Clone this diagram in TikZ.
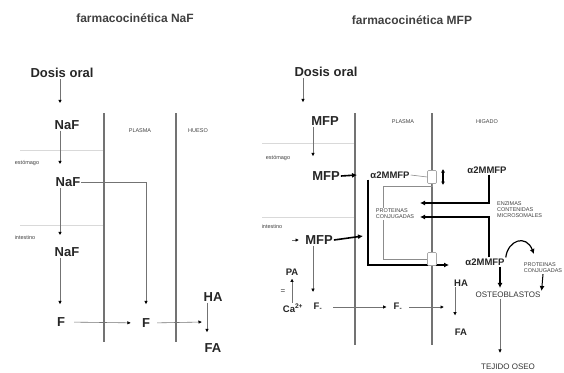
\documentclass[tikz,border=0pt]{standalone}
\usepackage{fontspec}
\setmainfont{Liberation Sans}
\usetikzlibrary{arrows.meta}
\begin{document}
\begin{tikzpicture}[x=1pt,y=-1pt,
 every node/.style={inner sep=1pt},
 ttl/.style={font=\fontsize{12}{13}\selectfont\bfseries, text=black!75},
 big/.style={font=\fontsize{13}{14}\selectfont\bfseries, text=black!85},
 mid/.style={font=\fontsize{9.5}{10}\selectfont\bfseries, text=black!85},
 lab/.style={font=\fontsize{8}{9}\selectfont, text=black!80},
 tiny/.style={font=\fontsize{5.5}{6}\selectfont, text=black!75, align=left},
 zone/.style={draw=black!55, line width=1.1pt},
 sep/.style={draw=black!15, line width=0.8pt},
 conn/.style={draw=black!55, line width=0.6pt, -{Latex[length=3.5pt,width=3.5pt,color=black]}},
 heavy/.style={draw=black, line width=1.6pt, -{Latex[length=5pt,width=5pt]}},
 thinl/.style={draw=black!45, line width=0.6pt},
 smallbox/.style={draw=black!35, fill=white, line width=0.6pt, minimum width=9pt, minimum height=13pt, rounded corners=1pt},
]
\useasboundingbox (0,0) rectangle (564,372);

% ---------------- left: NaF ----------------
\node[ttl] (t1) at (135,18) {farmacocinética NaF};
\node[big] (d1) at (62,73) {Dosis oral};
\node[big] (n1) at (67,125) {NaF};
\node[big] (n2) at (68,182) {NaF};
\node[big] (n3) at (67,252) {NaF};
\node[big] (f1) at (61,322) {F};
\node[big] (f2) at (146,323) {F};
\node[big] (ha1) at (213,297) {HA};
\node[big] (fa1) at (213,348) {FA};
\node[tiny] (pl1) at (140,131) {PLASMA};
\node[tiny] (hu1) at (198,131) {HUESO};
\node[tiny] (es1) at (27,163) {estómago};
\node[tiny] (in1) at (25,238) {intestino};

\draw[zone] (104,113) -- (104,342);
\draw[zone] (176,113) -- (176,342);
\draw[sep] (20,150) -- (103,150);
\draw[sep] (20,225) -- (103,225);

\coordinate (cl) at (60,0);
\coordinate (cl2) at (207,0);
\coordinate (j1) at (202,322);
\draw[conn,shorten >=16pt] (cl |- d1.south) -- (cl |- n1.north);
\draw[conn,shorten >=12pt] (cl |- n1.south) -- (cl |- n2.north);
\draw[conn,shorten >=11pt] (cl |- n2.south) -- (cl |- n3.north);
\draw[conn,shorten >=12pt] (cl |- n3.south) -- (cl |- f1.north);
\draw[conn,shorten >=13pt] (n2.east) -| (f2.north);
\draw[conn,shorten <=8pt,shorten >=10pt] (f1.east) -- (f2.west);
\draw[conn,shorten <=6pt] (f2.east) -- (j1);
\draw[conn,shorten >=10pt] (cl2 |- ha1.south) -- (cl2 |- fa1.north);

% ---------------- right: MFP ----------------
\node[ttl] (t2) at (412,20) {farmacocinética MFP};
\node[big] (d2) at (326,72) {Dosis oral};
\node[big] (m1) at (325,121) {MFP};
\node[big] (m2) at (326,176) {MFP};
\node[big] (m3) at (319,240) {MFP};
\node[tiny] (pl2) at (403,122) {PLASMA};
\node[tiny] (hi2) at (487,122) {HIGADO};
\node[tiny] (es2) at (278,158) {estómago};
\node[tiny] (in2) at (272,227) {intestino};

\draw[zone] (355,113) -- (355,345);
\draw[zone] (432,113) -- (432,345);
\draw[sep] (262,143) -- (354,143);
\draw[sep] (262,217) -- (354,217);

\coordinate (cr1) at (303,0);
\coordinate (cr2) at (313,0);
\draw[conn,shorten >=13pt] (cr1 |- d2.south) -- (cr1 |- m1.north);
\draw[conn,shorten >=14pt] (cr2 |- m1.south) -- (cr2 |- m2.north);

\node[mid] (a1) at (390,175) {α2MMFP};
\node[mid] (a2) at (487,170) {α2MMFP};
\node[mid] (a3) at (485,262) {α2MMFP};
\node[tiny] (pr1) at (395,214) {PROTEINAS\\CONJUGADAS};
\node[tiny,anchor=west] (en) at (496,210) {ENZIMAS\\CONTENIDAS\\MICROSOMALES};
\node[tiny] (pr2) at (543,268) {PROTEINAS\\CONJUGADAS};
\node[lab] (os) at (508,295) {OSTEOBLASTOS};
\node[lab] (to) at (508,367) {TEJIDO OSEO};
\node[mid] (ha2) at (461,283) {HA};
\node[mid] (fa2) at (461,332) {FA};
\node[mid] (f3) at (318,307) {F\textsubscript{-}};
\node[mid] (f4) at (398,307) {F\textsubscript{-}};
\node[mid] (pa) at (292,272) {PA};
\node[lab] (eq) at (283,292) {=};
\node[mid] (ca) at (293,308) {Ca\textsuperscript{2+}};

\coordinate (pe1) at (357,175);
\coordinate (pe2) at (363,236);
\draw[heavy] (m2.east) -- (pe1);
\draw[heavy] (m3.east) -- (pe2);
\coordinate (dt1) at (292,240);
\coordinate (dt2) at (299,240);
\draw[conn] (dt1) -- (dt2);

% liver loops
\coordinate (k1) at (489,0);
\coordinate (q1) at (420,203);
\coordinate (q2) at (420,217);
\draw[heavy] (k1 |- a2.south) |- (q1);
\draw[heavy] (k1 |- a3.north) |- (q2);

\coordinate (c383) at (383,0);
\coordinate (c368) at (368,0);
\coordinate (q3) at (449,265);
\draw[heavy] (c368 |- a1.south) |- (q3);
\node[smallbox] (b1) at (432,177) {};
\node[smallbox] (b2) at (432,259) {};
\draw[thinl] (a1.east) -- (b1.west);
\draw[thinl] (b1.south) -- ++(0,2) -| (c383 |- pr1.north);
\draw[thinl] (c383 |- pr1.south) |- (b2.west);
\coordinate (u1) at (443,169);
\coordinate (u2) at (443,185);
\draw[draw=black, line width=1.2pt, {Latex[length=3.5pt,width=4pt]}-{Latex[length=3.5pt,width=4pt]}] (u1) -- (u2);

% osteoblasts
\coordinate (c500) at (500,0);
\coordinate (cv) at (534,254);
\draw[heavy, line width=1.2pt] (a3.north east) .. controls (508,240) and (526,234) .. (cv);
\draw[heavy, shorten >=3pt] (c500 |- a3.south) -- (c500 |- os.north);
\draw[heavy, line width=1pt] (pr2.south) -- (os.north east);
\draw[conn, shorten >=10pt] (c500 |- os.south) -- (c500 |- to.north);
\coordinate (c455) at (455,0);
\draw[conn, shorten >=12pt] (c455 |- ha2.south) -- (c455 |- fa2.north);

% fluoride flow
\coordinate (j2) at (444,307);
\draw[conn, shorten <=10pt, shorten >=6pt] (f3.east) -- (f4.west);
\draw[conn, shorten <=6pt] (f4.east) -- (j2);
\draw[conn, shorten >=10pt] (cr2 |- m3.south) -- (cr2 |- f3.north);
\coordinate (c292) at (292,0);
\draw[conn, shorten >=2pt] (c292 |- ca.north) -- (c292 |- pa.south);
\end{tikzpicture}
\end{document}
